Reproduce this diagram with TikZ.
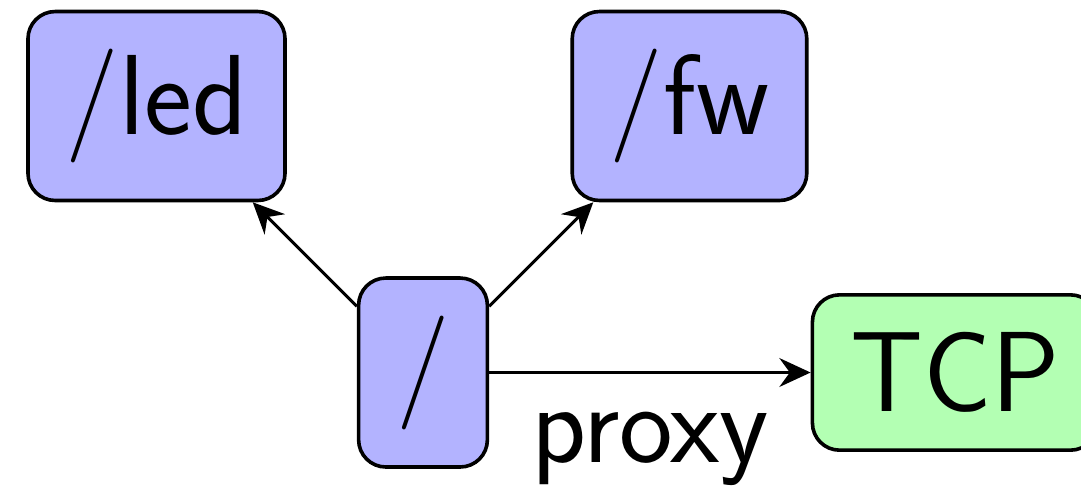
\documentclass[tikz,border=0pt]{standalone}
\usepackage{fontspec}
\usetikzlibrary{arrows.meta}
\definecolor{nodeblue}{RGB}{179,179,255}
\definecolor{nodegreen}{RGB}{179,255,179}
\tikzset{
  box/.style={draw=black, line width=0.9pt, rounded corners=6.8pt,
    font=\sffamily\fontsize{28.5}{34}\selectfont, inner sep=9.4pt},
  bluebox/.style={box, fill=nodeblue},
  greenbox/.style={box, fill=nodegreen},
  conn/.style={line width=0.75pt, -{Stealth[length=7.8pt,width=7.2pt,inset=2.6pt]}},
  lbl/.style={font=\sffamily\fontsize{28.5}{34}\selectfont, inner sep=9.4pt}
}
\begin{document}
\begin{tikzpicture}[x=0.25pt, y=-0.25pt]
\useasboundingbox (0,0) rectangle (1081,485);
\node[bluebox] (root) at (423,372.5) {/};
\node[bluebox] (led) at (156.5,106) {/led};
\node[bluebox] (fw) at (689.5,106) {/fw};
\node[greenbox] (tcp) at (955,372.5) {TCP};
\draw[conn] (root) -- (led);
\draw[conn] (root) -- (fw);
\draw[conn] (root) -- node[lbl, below] {proxy} (tcp);
\end{tikzpicture}
\end{document}
